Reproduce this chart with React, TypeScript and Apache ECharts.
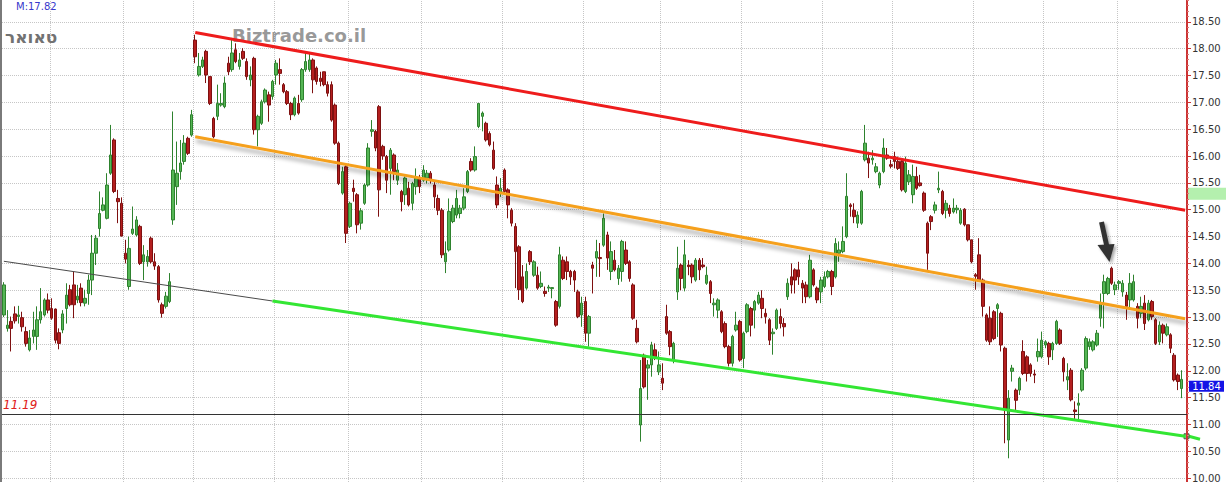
import React, { useEffect, useRef } from "react";
import * as echarts from "echarts";

// [open, close, low, high]
const partA: number[][] = [
  [13.04,13.60,13.00,13.65],[12.79,12.85,12.73,13.13],[12.92,12.79,12.36,13.01],[13.06,12.93,12.88,13.20],
  [13.01,13.04,12.88,13.21],[12.99,12.82,12.73,13.10],[12.73,12.51,12.45,12.82],[12.39,12.61,12.36,12.76],
  [12.64,12.76,12.51,13.10],[12.64,12.95,12.39,13.20],[12.95,13.10,12.88,13.54],[13.04,13.32,13.01,13.35],
  [13.32,13.13,13.07,13.44],[13.16,12.98,12.95,13.35],[13.15,12.57,12.51,13.16],[12.71,12.51,12.40,12.79],
  [12.76,13.06,12.70,13.13],[13.16,13.41,12.88,13.63],[13.51,13.23,13.20,13.60],[13.60,13.23,12.98,13.85],
  [13.32,13.39,13.26,13.60],[13.54,13.27,13.20,13.63],[13.26,13.35,13.20,13.51],[13.44,13.69,13.23,13.79],
  [13.69,14.19,13.41,14.53],[14.19,14.47,13.97,14.53],[14.65,14.93,14.50,15.34],[14.99,15.09,14.97,15.23],
  [14.84,15.46,14.82,15.68],[15.68,16.02,15.65,16.58],[16.30,15.34,15.31,16.33],[15.21,15.15,14.75,15.37],
  [15.12,14.51,14.50,15.23],[14.19,14.08,14.00,14.44],[13.57,14.28,13.51,14.50],[14.56,14.64,14.53,15.06],
  [14.53,14.81,14.50,14.88],[14.69,14.00,13.97,14.72],[14.03,14.16,13.69,14.34],[14.03,14.13,13.94,14.25],
  [14.47,14.03,14.00,14.50],[14.03,13.95,13.88,14.19],[13.94,13.32,13.27,13.97],[13.23,13.07,12.99,13.27],
  [13.20,13.39,13.16,13.47],[13.29,13.66,13.26,13.82],[14.81,15.74,14.72,16.83],[15.43,15.68,15.09,16.27],
  [15.71,15.87,15.56,16.30],[15.90,16.24,15.84,16.39],[16.33,16.05,16.02,16.36],[16.39,16.77,16.36,16.86],
];
const partB: number[][] = [
  [18.16,17.85,17.73,18.26],[17.51,17.67,17.48,17.92],[17.67,17.79,17.64,17.85],[17.95,17.51,17.36,17.98],
  [17.48,16.98,16.95,17.48],[16.70,16.36,16.33,16.73],[16.74,16.98,16.67,17.33],[16.95,16.98,16.92,17.17],
  [16.92,17.36,16.89,17.48],[17.73,17.57,17.51,17.85],[17.61,17.92,17.57,18.20],[17.98,17.76,17.73,18.10],
  [17.67,17.79,17.61,17.92],[17.95,17.82,17.79,18.01],[17.76,17.48,17.42,17.82],[17.42,17.51,17.30,17.67],
  [17.82,16.49,16.40,17.85],[16.49,16.74,16.18,16.77],[16.61,17.01,16.58,17.05],[17.01,17.23,16.98,17.26],
  [17.14,16.95,16.64,17.20],[17.11,17.39,17.05,17.42],[17.51,17.73,17.33,17.79],[17.61,17.54,17.33,17.82],
  [17.33,17.20,17.17,17.36],[17.20,16.98,16.95,17.23],[16.98,16.77,16.67,17.01],[16.77,17.08,16.74,17.11],
  [16.98,16.80,16.77,17.14],[17.05,17.61,17.01,17.64],[17.61,17.76,17.57,17.92],[17.61,17.79,17.57,17.92],
  [17.79,17.42,17.17,17.82],[17.64,17.39,17.33,17.67],[17.45,17.39,17.30,17.57],[17.57,17.33,17.30,17.57],
  [17.33,17.17,17.11,17.39],[17.33,16.67,16.64,17.39],[16.95,16.24,16.21,16.98],[16.24,15.49,15.46,16.27],
  [15.31,15.71,15.28,15.80],[15.80,14.56,14.38,15.83],[14.69,15.12,14.66,15.15],[15.40,15.34,15.15,15.56],
  [15.28,14.72,14.56,15.31],[14.75,14.98,14.63,15.03],[15.12,15.46,15.09,15.49],[15.46,16.15,15.43,16.24],
  [16.46,16.49,16.36,16.67],[16.46,16.15,16.09,16.49],[16.92,15.37,14.87,16.95],[16.18,16.00,15.93,16.21],
];
const partC: number[][] = [
  [15.99,15.55,15.31,16.02],[15.77,16.11,15.28,16.15],[16.02,15.71,15.55,16.05],[15.55,15.74,15.46,15.87],
  [15.34,15.15,14.97,15.37],[15.28,15.59,15.09,15.62],[15.40,15.09,15.06,15.52],[15.12,15.49,14.99,15.52],
  [15.43,15.59,15.28,15.77],[15.59,15.43,15.31,15.65],[15.55,15.74,15.52,15.83],[15.59,15.68,15.49,15.74],
  [15.68,15.55,15.49,15.72],[15.46,15.24,15.03,15.52],[15.21,14.99,14.90,15.28],[14.99,14.16,14.10,15.03],
  [14.03,14.19,13.82,14.41],[14.25,14.97,14.22,15.21],[14.78,15.03,14.75,15.09],[14.90,15.21,14.84,15.37],
  [14.93,15.03,14.84,15.09],[15.03,15.24,14.99,15.40],[15.34,15.71,15.31,15.74],[15.90,15.74,15.71,15.96],
  [15.74,15.99,15.71,16.18],[16.55,16.98,16.52,16.98],[16.74,16.80,16.46,16.83],[16.61,16.30,16.27,16.64],
  [16.42,16.21,16.18,16.46],[16.11,15.77,15.74,16.27],[15.46,15.09,15.03,15.62],[15.31,15.40,15.24,15.59],
  [15.74,15.34,15.31,15.77],[15.37,15.09,14.84,15.40],[14.99,14.75,14.69,15.03],[14.69,14.22,13.54,14.75],
  [14.31,13.51,13.32,14.34],[13.75,13.29,13.26,13.97],[13.54,13.85,13.51,14.00],[14.22,14.03,13.97,14.25],
  [13.78,14.03,13.75,14.06],[13.78,13.54,13.51,13.94],[13.57,13.63,13.54,13.85],[13.48,13.44,13.38,13.57],
  [13.54,13.56,13.47,13.60],[13.53,13.55,13.35,13.55],[13.29,12.85,12.82,13.32],[13.20,14.16,13.16,14.31],
  [14.06,13.72,13.69,14.13],[14.03,13.85,13.69,14.13],[13.85,13.75,13.60,13.88],[13.85,13.69,13.47,13.88],
  [13.47,13.01,12.98,13.51],
];
const partD: number[][] = [
  [13.04,13.26,12.82,13.38],[13.29,12.70,12.54,13.38],[12.70,13.01,12.45,13.04],[13.97,13.91,13.44,14.03],
  [14.10,14.22,13.75,14.44],[14.11,14.09,13.75,14.38],[14.34,14.84,14.31,14.93],[14.53,14.10,13.88,14.59],
  [13.85,14.22,13.69,14.41],[14.06,13.88,13.85,14.25],[13.72,13.91,13.60,13.97],[13.85,14.41,13.66,14.44],
  [14.25,14.00,13.97,14.41],[14.03,13.72,13.66,14.06],[13.60,12.98,12.95,13.63],[12.79,12.54,12.51,12.95],
  [10.99,11.67,10.68,12.20],[12.29,11.70,11.67,12.32],[12.05,12.11,11.46,12.20],[12.11,12.48,11.89,12.54],
  [12.39,12.26,12.20,12.51],[11.98,12.11,11.92,12.36],[11.86,11.77,11.64,12.14],[13.01,12.70,12.67,13.23],
  [12.73,12.45,12.29,12.76],[12.20,12.51,12.14,12.54],[13.47,13.91,13.32,14.31],[13.97,13.72,13.50,14.00],
  [13.54,14.16,13.48,14.44],[13.97,13.94,13.78,14.06],[13.97,13.75,13.63,14.00],[13.69,14.06,13.66,14.10],
  [14.06,13.88,13.69,14.10],[13.97,13.94,13.91,14.10],[13.63,13.78,13.60,13.94],[13.66,13.44,13.26,13.69],
  [13.23,13.26,13.01,13.35],[13.13,13.32,12.98,13.35],[13.10,12.73,12.70,13.13],[12.88,12.45,12.42,12.92],
  [12.45,12.14,12.08,12.48],[12.14,12.64,12.08,12.67],[12.76,12.85,12.73,13.10],[12.92,12.20,12.17,12.95],
  [12.23,12.70,12.05,12.73],[12.73,13.23,12.70,13.26],[13.16,12.85,12.64,13.19],[13.13,13.29,12.79,13.32],
  [13.26,13.41,13.23,13.47],[13.35,13.16,12.98,13.50],[13.07,13.01,12.88,13.16],[12.95,12.57,12.48,12.98],
];
const partE: number[][] = [
  [12.69,12.72,12.30,12.79],[12.79,13.13,12.76,13.16],[13.01,12.88,12.79,13.16],[12.88,12.82,12.64,12.98],
  [13.38,13.63,13.32,13.72],[13.75,13.60,13.44,14.00],[13.88,13.69,13.44,13.91],[13.88,13.75,13.60,14.03],
  [13.63,13.54,13.26,13.69],[13.60,13.38,13.26,13.66],[13.38,14.06,13.35,14.16],[13.88,13.60,13.57,13.91],
  [13.54,13.32,13.26,13.57],[13.47,13.69,13.26,13.75],[13.57,13.75,13.54,13.85],[13.75,13.85,13.72,13.88],
  [13.85,13.57,13.41,13.88],[13.75,14.37,13.72,14.47],[14.19,14.25,14.03,14.41],[14.22,14.41,14.19,14.69],
  [14.50,15.25,14.47,15.68],[15.09,15.06,14.87,15.12],[14.99,14.87,14.75,15.12],[14.75,14.90,14.66,14.97],
  [14.75,15.34,14.72,15.37],[15.93,16.24,15.90,16.58],[15.96,15.87,15.59,16.08],[15.93,15.96,15.84,16.11],
  [15.71,15.80,15.68,15.87],[15.46,15.68,15.40,15.71],[15.71,16.15,15.68,16.33],[16.02,15.96,15.93,16.15],
  [15.84,15.81,15.77,15.93],[15.99,15.90,15.77,16.08],[15.90,15.77,15.74,15.99],[15.90,15.37,15.34,15.93],
  [15.34,15.87,15.31,15.99],[15.52,15.65,15.46,15.74],[15.28,15.62,15.12,15.84],[15.62,15.40,15.37,15.80],
  [15.50,15.45,15.43,15.65],[15.31,14.99,14.96,15.34],[14.75,14.19,13.88,14.78],[14.87,14.78,14.62,14.90],
  [14.99,15.09,14.93,15.15],[15.37,15.40,15.31,15.71],[15.34,14.93,14.90,15.37],[14.99,15.12,14.84,15.18],
  [15.03,14.93,14.87,15.09],[14.96,15.03,14.93,15.21],[15.00,15.03,14.93,15.09],[14.75,14.99,14.72,15.03],
];
const partF: number[][] = [
  [15.01,14.72,14.69,15.03],[14.72,14.44,14.41,14.72],[14.44,14.03,14.00,14.44],[13.79,13.76,13.51,13.82],
  [14.16,13.69,13.66,14.47],[13.69,13.20,13.01,13.72],[13.04,12.57,12.54,13.07],[12.98,12.54,12.48,13.20],
  [13.10,12.60,12.57,13.13],[13.16,13.23,12.63,13.26],[13.07,12.48,12.36,13.10],[12.42,11.27,10.65,12.45],
  [10.71,11.49,10.37,11.64],[11.99,12.05,11.80,12.11],[11.64,11.45,11.27,11.67],[11.64,11.86,11.55,11.89],
  [12.36,11.95,11.92,12.57],[12.26,11.95,11.80,12.29],[12.11,11.95,11.89,12.14],[11.94,11.92,11.77,12.02],
  [12.26,12.36,12.17,12.60],[12.26,12.57,12.23,12.73],[12.48,12.54,12.42,12.57],[12.51,12.26,12.11,12.54],
  [12.39,12.51,12.20,12.54],[12.51,12.92,12.48,12.95],[12.76,12.51,12.48,12.79],[12.23,11.98,11.80,12.26],
  [11.83,11.89,11.64,12.14],[12.01,11.46,11.43,12.05],[11.27,11.24,11.08,11.43],[11.36,11.40,11.08,11.58],
  [11.64,12.01,11.61,12.05],[12.05,12.60,12.01,12.64],[12.45,12.54,12.39,12.60],[12.39,12.54,12.36,12.57],
  [12.48,12.70,12.45,12.76],[12.98,13.26,12.82,13.44],[13.44,13.66,12.79,13.79],[13.44,13.72,13.41,13.75],
  [13.91,13.63,13.60,13.94],[13.51,13.60,13.41,13.66],[13.63,13.66,13.51,13.69],[13.47,13.63,13.38,13.69],
  [13.41,13.20,12.95,13.47],[13.32,13.63,13.16,13.82],[13.32,13.66,13.29,13.79],[13.20,12.98,12.79,13.26],
  [13.07,13.20,12.98,13.38],[13.26,12.88,12.76,13.41],[12.95,13.26,12.92,13.32],[13.29,13.01,12.95,13.32],
  [12.95,12.51,12.48,12.98],[12.54,12.85,12.48,12.92],[12.85,12.70,12.51,12.88],[12.67,12.82,12.64,12.88],
  [12.67,12.42,12.33,12.70],[12.29,11.83,11.80,12.33],[11.92,11.80,11.64,11.95],[11.67,11.84,11.49,12.01],
];

const ohlc = [...partA, ...partB, ...partC, ...partD, ...partE, ...partF];
const SLOTS = 322;
const categories = Array.from({ length: SLOTS }, (_, i) => String(i + 1));
const monthStarts = [13, 33, 52, 74, 94, 114, 136, 158, 179, 201, 223, 242, 264, 283, 303];

const trendRed = [[52, 18.30], [321, 14.99]];
const trendOrange = [[52, 16.36], [321, 12.97]];
const trendGray = [[0, 14.04], [73, 13.30]];
const trendGreen = [[73, 13.30], [321, 10.78]];
const supportLevel = 11.19;
const lastPrice = 11.84;
const greenMarkValue = 15.3;
const maxText = "M:17.82";
const titleText = "טאואר";
const watermark = "Biztrade.co.il";

const TOP = 5; // chart div is shifted up by this many px

export default function App() {
  const ref = useRef<HTMLDivElement>(null);
  useEffect(() => {
    if (!ref.current) return;
    const chart = echarts.init(ref.current, undefined, { renderer: "svg" });
    const option: any = {
      animation: false,
      backgroundColor: "#ffffff",
      grid: { left: 2, right: 39, top: 0, bottom: 0 },
      xAxis: {
        type: "category",
        data: categories,
        boundaryGap: true,
        axisLine: { show: false },
        axisTick: { show: false },
        axisLabel: { show: false },
        splitLine: {
          show: true,
          interval: (index: number) => monthStarts.includes(index),
          lineStyle: { color: "#c6c6c6", type: "dotted", width: 1 },
        },
      },
      yAxis: {
        type: "value",
        position: "right",
        min: 9.5,
        max: 19,
        interval: 0.5,
        axisLine: { show: true, lineStyle: { color: "#cc3333", width: 2 } },
        axisTick: { show: true, length: 4, lineStyle: { color: "#cc3333" } },
        minorTick: { show: true, splitNumber: 5, length: 2, lineStyle: { color: "#dd7777" } },
        axisLabel: {
          margin: 5,
          color: "#333333",
          fontFamily: "DejaVu Sans",
          fontSize: 10,
          formatter: (v: number) => (v < 9.9 || v > 18.9 ? "" : v.toFixed(2)),
        },
        splitLine: { show: true, lineStyle: { color: "#c6c6c6", type: "dotted", width: 1 } },
      },
      series: [
        {
          type: "candlestick",
          data: ohlc,
          barWidth: 3,
          itemStyle: {
            color: "#55b655",
            borderColor: "#2e822e",
            color0: "#b41f1f",
            borderColor0: "#7e1010",
            borderWidth: 1,
          },
          markLine: {
            silent: true,
            symbol: ["none", "none"],
            label: { show: false },
            data: [
              [
                { coord: trendGray[0], lineStyle: { color: "#4a4a4a", width: 1, type: "solid" } },
                { coord: trendGray[1] },
              ],
              [
                { coord: trendGreen[0], lineStyle: { color: "#33e633", width: 3, type: "solid" } },
                { coord: trendGreen[1] },
              ],
              [
                {
                  coord: trendOrange[0],
                  lineStyle: {
                    color: "#f5a01e",
                    width: 3,
                    type: "solid",
                    shadowColor: "rgba(0,0,0,0.35)",
                    shadowBlur: 4,
                    shadowOffsetX: 1,
                    shadowOffsetY: 4,
                  },
                },
                { coord: trendOrange[1] },
              ],
              [
                { coord: trendRed[0], lineStyle: { color: "#ee1c1c", width: 3, type: "solid" } },
                { coord: trendRed[1] },
              ],
              {
                yAxis: supportLevel,
                lineStyle: { color: "#333333", width: 1, type: "solid" },
                label: {
                  show: true,
                  position: "insideStartTop",
                  formatter: supportLevel.toFixed(2),
                  color: "#e02020",
                  fontStyle: "italic",
                  fontSize: 12,
                  fontFamily: "DejaVu Sans",
                  distance: [1, 3],
                },
              },
            ],
          },
        },
      ],
    };
    chart.setOption(option);

    const yLast = chart.convertToPixel({ yAxisIndex: 0 }, lastPrice) as number;
    const yGreen = chart.convertToPixel({ yAxisIndex: 0 }, greenMarkValue) as number;
    const yGreenLineEnd = chart.convertToPixel({ yAxisIndex: 0 }, trendGreen[1][1]) as number;

    chart.setOption({
      graphic: [
        { type: "rect", shape: { x: 0, y: 0, width: 2, height: 520 }, style: { fill: "#7a7a7a" }, silent: true },
        {
          type: "text",
          x: 16,
          y: 6 + TOP,
          style: { text: maxText, fill: "#3838cc", font: '10px "DejaVu Sans"', textVerticalAlign: "middle" },
          silent: true,
        },
        {
          type: "text",
          x: 5,
          y: 36.5 + TOP,
          style: { text: titleText, fill: "#727272", font: 'bold 17px "DejaVu Sans"', textVerticalAlign: "middle" },
          silent: true,
        },
        {
          type: "text",
          x: 232,
          y: 35 + TOP,
          z: -1,
          style: {
            text: watermark,
            fill: "rgba(125,125,125,0.8)",
            font: 'bold 18px "DejaVu Sans"',
            textVerticalAlign: "middle",
          },
          silent: true,
        },
        {
          type: "rect",
          shape: { x: 1188, y: yGreen - 6, width: 38, height: 12 },
          style: { fill: "#b4f0ae" },
          silent: true,
        },
        {
          type: "rect",
          shape: { x: 1189, y: yLast + 1.3, width: 35, height: 11 },
          style: { fill: "#1414e6" },
          silent: true,
        },
        {
          type: "text",
          x: 1206.5,
          y: yLast + 7,
          style: {
            text: lastPrice.toFixed(2),
            fill: "#ffffff",
            font: '10px "DejaVu Sans"',
            textAlign: "center",
            textVerticalAlign: "middle",
          },
          silent: true,
        },
        {
          type: "line",
          shape: { x1: 1187, y1: yGreenLineEnd - 0.5, x2: 1200, y2: yGreenLineEnd + 3 },
          style: { stroke: "#33e633", lineWidth: 3 },
          silent: true,
        },
        {
          type: "rect",
          shape: { x: 1184, y: yGreenLineEnd - 2.5, width: 5, height: 5 },
          style: { fill: "#66cc66", stroke: "#555555", lineWidth: 1 },
          silent: true,
        },
        {
          type: "group",
          silent: true,
          children: [
            {
              type: "line",
              shape: { x1: 1101.5, y1: 222 + TOP, x2: 1107, y2: 247 + TOP },
              style: {
                stroke: "#333333",
                lineWidth: 5,
                shadowBlur: 3,
                shadowColor: "rgba(0,0,0,0.35)",
                shadowOffsetX: 2,
                shadowOffsetY: 2,
              },
            },
            {
              type: "polygon",
              shape: { points: [[1097.5, 245 + TOP], [1114.5, 244 + TOP], [1109.5, 262 + TOP]] },
              style: {
                fill: "#333333",
                shadowBlur: 3,
                shadowColor: "rgba(0,0,0,0.35)",
                shadowOffsetX: 2,
                shadowOffsetY: 2,
              },
            },
          ],
        },
      ],
    });

    return () => chart.dispose();
  }, []);

  return (
    <div
      style={{
        position: "fixed",
        left: 0,
        top: 0,
        width: 1226,
        height: 482,
        overflow: "hidden",
        background: "#ffffff",
      }}
    >
      <div ref={ref} style={{ position: "absolute", left: 0, top: -TOP, width: 1226, height: 510 }} />
    </div>
  );
}
